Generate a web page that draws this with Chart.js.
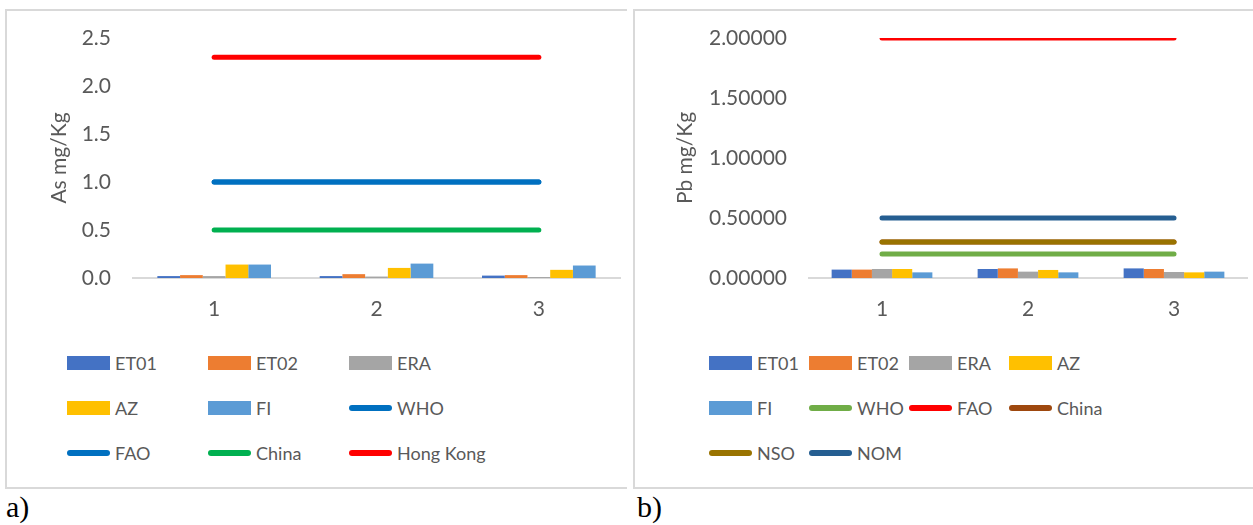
<!DOCTYPE html>
<html>
<head>
<meta charset="utf-8">
<script src="https://cdn.jsdelivr.net/npm/chart.js@4.4.1/dist/chart.umd.min.js"></script>
<style>
  html, body { margin: 0; padding: 0; background: #fff; }
  body { width: 1253px; height: 525px; position: relative; overflow: hidden; font-family: Lato, sans-serif; }
  .panel { position: absolute; top: 9px; height: 476px; border: 2px solid #d9d9d9; border-right: none; box-sizing: content-box; }
  .panel canvas { position: absolute; left: 0; top: 0; }
  .leg { position: absolute; display: flex; align-items: center; height: 24px; color: #595959; font-size: 18px; white-space: nowrap; }
  .leg .mk { width: 43px; margin-right: 5px; }
  .leg .box { height: 14px; }
  .leg .ln { height: 6px; border-radius: 3px; }
  .tag { position: absolute; top: 490px; font-family: "Liberation Serif", serif; font-size: 30px; color: #000; line-height: 34px; }
</style>
</head>
<body>
<div class="panel" id="panelA" style="left:5px; width:620px;"><canvas id="chartA"></canvas></div>
<div class="panel" id="panelB" style="left:633px; width:640px;"><canvas id="chartB"></canvas></div>
<div class="tag" style="left:6px;">a)</div>
<div class="tag" style="left:637px;">b)</div>
<script>
// categories (sampling sites) on the x axis
const categories = ['1', '2', '3'];

// As, mg/Kg
const asET01 = [0.02, 0.02, 0.025];
const asET02 = [0.03, 0.04, 0.03];
const asERA = [0.02, 0.015, 0.01];
const asAZ = [0.14, 0.105, 0.085];
const asFI = [0.14, 0.15, 0.13];
const asWHO = [1.0, 1.0, 1.0];
const asFAO = [1.0, 1.0, 1.0];
const asChina = [0.5, 0.5, 0.5];
const asHongKong = [2.3, 2.3, 2.3];

// Pb, mg/Kg
const pbET01 = [0.07, 0.075, 0.08];
const pbET02 = [0.07, 0.08, 0.075];
const pbERA = [0.075, 0.053, 0.05];
const pbAZ = [0.075, 0.067, 0.047];
const pbFI = [0.047, 0.047, 0.053];
const pbWHO = [0.2, 0.2, 0.2];
const pbFAO = [2.0, 2.0, 2.0];
const pbChina = [0.3, 0.3, 0.3];
const pbNSO = [0.3, 0.3, 0.3];
const pbNOM = [0.5, 0.5, 0.5];

const TXT = '#595959';
const FONT = 'Lato, sans-serif';

function bar(label, data, color) {
    return { type: 'bar', label: label, data: data, backgroundColor: color, borderWidth: 0 };
}

function line(label, data, color, i) {
    // later series drawn on top, like Excel does
    return {
        type: 'line', label: label, data: data, borderColor: color, backgroundColor: color,
        borderWidth: 5, borderCapStyle: 'round', pointRadius: 0, order: -i
    };
}

function makeChart(id, datasets, opts) {
    const canvas = document.getElementById(id);
    canvas.width = 618;
    canvas.height = 320;
    canvas.style.width = '618px';
    canvas.style.height = '320px';
    return new Chart(canvas, {
        type: 'bar',
        data: { labels: categories, datasets: datasets },
        options: {
            responsive: false,
            animation: false,
            categoryPercentage: opts.catPct,
            barPercentage: 1.0,
            layout: { padding: { top: 27, right: opts.right, left: 0, bottom: 0 } },
            plugins: { legend: { display: false }, tooltip: { enabled: false } },
            scales: {
                x: {
                    grid: { display: false, drawTicks: false },
                    border: { display: true, color: '#d9d9d9', width: 2 },
                    ticks: { color: TXT, font: { family: FONT, size: 21 }, padding: 19 },
                    afterFit: function (s) { s.height = 53; }
                },
                y: {
                    min: 0,
                    max: opts.max,
                    grid: { display: false, drawTicks: false },
                    border: { display: false },
                    ticks: {
                        stepSize: 0.5, color: TXT, font: { family: FONT, size: 21 }, padding: 22,
                        callback: function (v) { return Number(v).toFixed(opts.dec); }
                    },
                    title: {
                        display: true, text: opts.title, color: TXT,
                        font: { family: FONT, size: 21 }, padding: { top: opts.titlePad, bottom: 0 }
                    },
                    afterFit: function (s) {
                        s.width = opts.yWidth;
                        s.paddingTop = 0;
                        s.paddingBottom = 0;
                    }
                }
            }
        }
    });
}

function buildLegend(panelId, chart, cols, x0, colW) {
    const panel = document.getElementById(panelId);
    const rows = [352, 397, 442];
    chart.data.datasets.forEach(function (ds, i) {
        const item = document.createElement('div');
        item.className = 'leg';
        item.style.left = (x0 + (i % cols) * colW) + 'px';
        item.style.top = (rows[Math.floor(i / cols)] - 12) + 'px';
        const mk = document.createElement('div');
        mk.className = 'mk ' + (ds.type === 'line' ? 'ln' : 'box');
        mk.style.background = ds.type === 'line' ? ds.borderColor : ds.backgroundColor;
        item.appendChild(mk);
        item.appendChild(document.createTextNode(ds.label));
        panel.appendChild(item);
    });
}

const chartA = makeChart('chartA', [
    bar('ET01', asET01, '#4472C4'),
    bar('ET02', asET02, '#ED7D31'),
    bar('ERA', asERA, '#A5A5A5'),
    bar('AZ', asAZ, '#FFC000'),
    bar('FI', asFI, '#5B9BD5'),
    line('WHO', asWHO, '#0070C0', 5),
    line('FAO', asFAO, '#0070C0', 6),
    line('China', asChina, '#00B050', 7),
    line('Hong Kong', asHongKong, '#FF0000', 8)
], { max: 2.5, dec: 1, title: 'As mg/Kg', titlePad: 40, yWidth: 126, right: 5, catPct: 0.7 });

const chartB = makeChart('chartB', [
    bar('ET01', pbET01, '#4472C4'),
    bar('ET02', pbET02, '#ED7D31'),
    bar('ERA', pbERA, '#A5A5A5'),
    bar('AZ', pbAZ, '#FFC000'),
    bar('FI', pbFI, '#5B9BD5'),
    line('WHO', pbWHO, '#70AD47', 5),
    line('FAO', pbFAO, '#FF0000', 6),
    line('China', pbChina, '#9E480E', 7),
    line('NSO', pbNSO, '#997300', 8),
    line('NOM', pbNOM, '#255E91', 9)
], { max: 2.0, dec: 5, title: 'Pb mg/Kg', titlePad: 38, yWidth: 174, right: 6, catPct: 0.69 });

buildLegend('panelA', chartA, 3, 60, 141);
buildLegend('panelB', chartB, 4, 74, 100);
</script>
</body>
</html>
